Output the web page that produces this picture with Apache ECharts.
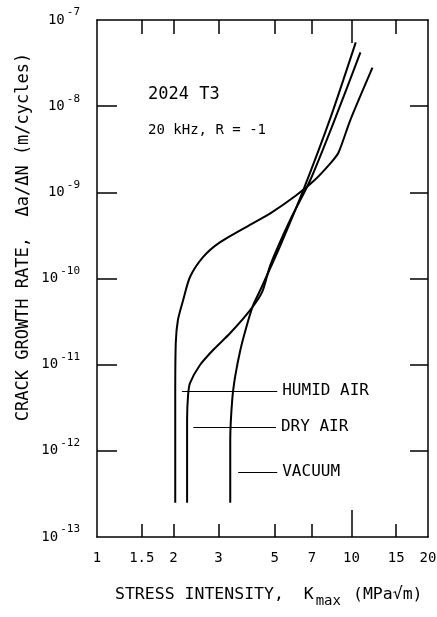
<!DOCTYPE html>
<html>
<head>
<meta charset="utf-8">
<script src="https://cdn.jsdelivr.net/npm/echarts@6/dist/echarts.min.js"></script>
<style>
html,body{margin:0;padding:0;background:#fff;}
#chart{width:437px;height:617px;}
</style>
</head>
<body>
<div id="chart"></div>
<script>
// ---- data ----
var xTickLabels = [1, 1.5, 2, 3, 5, 7, 10, 15, 20];
var xMinorTicks = [1.5, 2, 3, 5, 7, 15];
var xMajorTicks = [10];
var yTickLabels = [1e-13, 1e-12, 1e-11, 1e-10, 1e-9, 1e-8, 1e-7];
var yTicks = [1e-12, 1e-11, 1e-10, 1e-9, 1e-8];

var humidK    = [2.03, 2.03, 2.04, 2.08, 2.18, 2.32, 2.61, 3.05, 4.11, 4.8, 6.0, 7.1, 8.3, 8.9, 9.9, 12.1];
var humidRate = [2.5e-13, 3.9e-12, 1.8e-11, 3.3e-11, 5.6e-11, 1.04e-10, 1.77e-10, 2.64e-10, 4.4e-10, 5.7e-10, 9.0e-10, 1.35e-9, 2.2e-9, 2.9e-9, 6.9e-9, 2.8e-8];

var dryK    = [2.26, 2.26, 2.28, 2.32, 2.54, 2.86, 3.34, 4.0, 4.46, 4.8, 5.75, 6.9, 8.65, 10.85];
var dryRate = [2.5e-13, 2.3e-12, 4.4e-12, 6.1e-12, 9.9e-12, 1.48e-11, 2.33e-11, 4.3e-11, 7.0e-11, 1.43e-10, 4.8e-10, 1.4e-9, 7.3e-9, 4.2e-8];

var vacK    = [3.34, 3.34, 3.40, 3.49, 3.66, 3.90, 4.11, 4.38, 5.25, 6.47, 8.27, 10.4];
var vacRate = [2.5e-13, 1.33e-12, 3.9e-12, 7.2e-12, 1.48e-11, 3.0e-11, 4.9e-11, 7.3e-11, 2.4e-10, 1.06e-9, 7.3e-9, 5.5e-8];

// leader lines for the curve labels: [kStart, kEnd, rate]
var seriesNames = ['HUMID AIR', 'DRY AIR', 'VACUUM'];
var leaderHumid = [2.16, 5.11, 4.94e-12];
var leaderDry   = [2.39, 5.05, 1.89e-12];
var leaderVac   = [3.59, 5.11, 5.68e-13];

var MONO = '"DejaVu Sans Mono", "Liberation Mono", monospace';

function pairs(xs, ys) { return xs.map(function (x, i) { return [x, ys[i]]; }); }

function leader(name, l) {
  return {
    silent: true,
    symbol: ['none', 'none'],
    animation: false,
    lineStyle: { color: '#000', width: 1, type: 'solid' },
    label: {
      show: true, position: 'end', distance: 5,
      formatter: name, color: '#000', fontFamily: MONO, fontSize: 16
    },
    emphasis: { disabled: true },
    data: [[{ coord: [l[0], l[2]] }, { coord: [l[1], l[2]] }]]
  };
}

function curve(name, xs, ys, l) {
  return {
    name: name, type: 'line', xAxisIndex: 0, yAxisIndex: 0,
    data: pairs(xs, ys), symbol: 'none', smooth: 0.25,
    lineStyle: { color: '#000', width: 2 },
    emphasis: { disabled: true },
    markLine: leader(name, l)
  };
}

var chart = echarts.init(document.getElementById('chart'), null, { renderer: 'canvas' });

var axisLineStyle = { show: true, lineStyle: { color: '#000', width: 1.5 } };

chart.setOption({
  animation: false,
  backgroundColor: '#fff',
  grid: { left: 97, right: 9, top: 20, bottom: 80, containLabel: false, outerBoundsMode: 'none' },
  xAxis: [
    { type: 'log', logBase: 10, min: 1, max: 20, position: 'bottom',
      axisLine: axisLineStyle,
      axisTick: { show: true, inside: true, length: 13, customValues: xMinorTicks, lineStyle: { color: '#000', width: 1.5 } },
      axisLabel: { show: true, customValues: xTickLabels, margin: 14, color: '#000', fontFamily: MONO, fontSize: 14,
        formatter: function (v) { return String(+v.toPrecision(3)); } },
      splitLine: { show: false }, minorTick: { show: false } },
    { type: 'log', logBase: 10, min: 1, max: 20, position: 'bottom',
      axisLine: { show: false },
      axisTick: { show: true, inside: true, length: 27, customValues: xMajorTicks, lineStyle: { color: '#000', width: 1.5 } },
      axisLabel: { show: false }, splitLine: { show: false } },
    { type: 'log', logBase: 10, min: 1, max: 20, position: 'top',
      axisLine: axisLineStyle,
      axisTick: { show: true, inside: true, length: 14, customValues: xMinorTicks, lineStyle: { color: '#000', width: 1.5 } },
      axisLabel: { show: false }, splitLine: { show: false } },
    { type: 'log', logBase: 10, min: 1, max: 20, position: 'top',
      axisLine: { show: false },
      axisTick: { show: true, inside: true, length: 23, customValues: xMajorTicks, lineStyle: { color: '#000', width: 1.5 } },
      axisLabel: { show: false }, splitLine: { show: false } }
  ],
  yAxis: [
    { type: 'log', logBase: 10, min: 1e-13, max: 1e-7, position: 'left',
      axisLine: axisLineStyle,
      axisTick: { show: true, inside: true, length: 20, customValues: yTicks, lineStyle: { color: '#000', width: 1.5 } },
      axisLabel: { show: true, customValues: yTickLabels, margin: 17, color: '#000',
        formatter: function (v) {
          var e = Math.round(Math.log10(v));
          return '{b|10}{s|' + e + '}';
        },
        rich: {
          b: { fontFamily: MONO, fontSize: 14, lineHeight: 26, verticalAlign: 'middle', color: '#000' },
          s: { fontFamily: MONO, fontSize: 11, lineHeight: 10, verticalAlign: 'top', color: '#000', padding: [0, 0, 0, 2] }
        } },
      splitLine: { show: false }, minorTick: { show: false } },
    { type: 'log', logBase: 10, min: 1e-13, max: 1e-7, position: 'right',
      axisLine: axisLineStyle,
      axisTick: { show: true, inside: true, length: 18, customValues: yTicks, lineStyle: { color: '#000', width: 1.5 } },
      axisLabel: { show: false }, splitLine: { show: false } }
  ],
  series: [
    curve(seriesNames[0], humidK, humidRate, leaderHumid),
    curve(seriesNames[1], dryK, dryRate, leaderDry),
    curve(seriesNames[2], vacK, vacRate, leaderVac)
  ],
  graphic: [
    { type: 'text', x: 24, y: 237, rotation: Math.PI / 2, silent: true,
      style: { text: 'CRACK GROWTH RATE,  \u0394a/\u0394N (m/cycles)', fill: '#000',
        font: '17px ' + MONO, align: 'center', verticalAlign: 'middle' } },
    { type: 'text', x: 115, y: 595, silent: true,
      style: { text: '{b|STRESS INTENSITY,  K}{s|max}{b|(MPa\u221Am)}', fill: '#000', align: 'left', verticalAlign: 'middle',
        rich: {
          b: { fontFamily: MONO, fontSize: 16.5, lineHeight: 26, verticalAlign: 'middle', fill: '#000' },
          s: { fontFamily: MONO, fontSize: 14, lineHeight: 12, verticalAlign: 'bottom', fill: '#000', padding: [0, 12, 0, 2] }
        } } },
    { type: 'text', x: 148, y: 95, silent: true,
      style: { text: '2024 T3', fill: '#000', font: '17px ' + MONO, align: 'left', verticalAlign: 'middle' } },
    { type: 'text', x: 148, y: 130, silent: true,
      style: { text: '20 kHz, R = -1', fill: '#000', font: '14px ' + MONO, align: 'left', verticalAlign: 'middle' } }
  ]
});
</script>
</body>
</html>
